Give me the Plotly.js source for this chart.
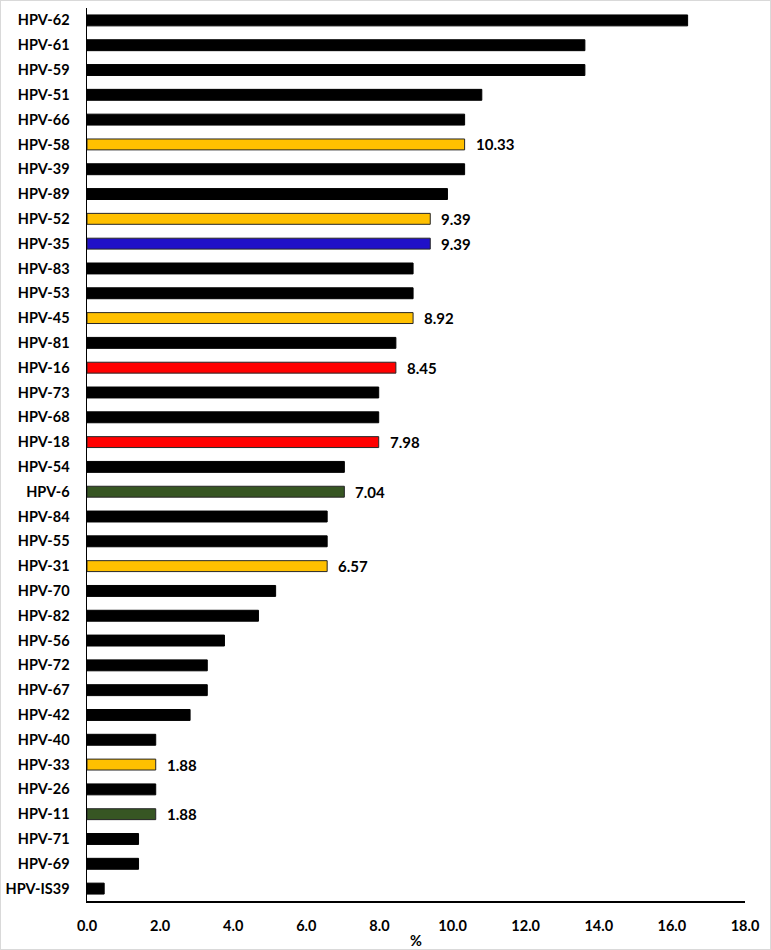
<!DOCTYPE html>
<html>
<head>
<meta charset="utf-8">
<script src="https://cdn.plot.ly/plotly-3.0.1.min.js"></script>
<style>
  body { margin: 0; background: #fff; }
  #wrap { width: 769px; height: 948px; border: 1px solid #d9d9d9; }
</style>
</head>
<body>
<div id="wrap"><div id="chart"></div></div>
<script>
// HPV types, top to bottom as in the figure
var types = ["HPV-62","HPV-61","HPV-59","HPV-51","HPV-66","HPV-58","HPV-39","HPV-89",
  "HPV-52","HPV-35","HPV-83","HPV-53","HPV-45","HPV-81","HPV-16","HPV-73","HPV-68",
  "HPV-18","HPV-54","HPV-6","HPV-84","HPV-55","HPV-31","HPV-70","HPV-82","HPV-56",
  "HPV-72","HPV-67","HPV-42","HPV-40","HPV-33","HPV-26","HPV-11","HPV-71","HPV-69","HPV-IS39"];
var percent = [16.43,13.62,13.62,10.80,10.33,10.33,10.33,9.86,
  9.39,9.39,8.92,8.92,8.92,8.45,8.45,7.98,7.98,
  7.98,7.04,7.04,6.57,6.57,6.57,5.16,4.69,3.76,
  3.29,3.29,2.82,1.88,1.88,1.88,1.88,1.41,1.41,0.47];
// group of each type: o = other, hr = high risk (vaccine), lr = low risk, r = 16/18, b = 35
var group = ["o","o","o","o","o","hr","o","o",
  "hr","b","o","o","hr","o","r","o","o",
  "r","o","lr","o","o","hr","o","o","o",
  "o","o","o","o","hr","o","lr","o","o","o"];

var fillFor = { o: "#000000", hr: "#FFC000", r: "#FF0000", b: "#2010C8", lr: "#375623" };

var colors = group.map(g => fillFor[g]);
var lineColors = group.map(g => g == "o" ? "#000000" : "#262626");

var trace = {
  type: "bar",
  orientation: "h",
  x: percent,
  y: types,
  width: 0.44,
  marker: { color: colors, line: { color: lineColors, width: 1 } },
  hoverinfo: "x+y"
};

// value labels only on the coloured bars
var notes = [];
types.forEach(function (t, i) {
  if (group[i] != "o") {
    notes.push({
      x: percent[i], y: t, xref: "x", yref: "y",
      text: percent[i].toFixed(2), showarrow: false,
      xanchor: "left", xshift: 9,
      font: { family: "Lato, sans-serif", size: 15, color: "#000", weight: 700 }
    });
  }
});

var tickFont = { family: "Lato, sans-serif", size: 14.5, color: "#000", weight: 700 };

var layout = {
  width: 769,
  height: 948,
  margin: { l: 86, r: 25, t: 7, b: 48 },
  paper_bgcolor: "#fff",
  plot_bgcolor: "#fff",
  showlegend: false,
  xaxis: {
    range: [0, 18],
    dtick: 2,
    tickformat: ".1f",
    showgrid: false,
    zeroline: false,
    showline: true,
    linecolor: "#000",
    linewidth: 1.5,
    ticks: "",
    ticklabelstandoff: 11,
    tickfont: tickFont,
    title: { text: "%", font: tickFont, standoff: 7 },
    automargin: false,
    fixedrange: true
  },
  yaxis: {
    type: "category",
    autorange: "reversed",
    showgrid: false,
    zeroline: false,
    showline: true,
    linecolor: "#000",
    linewidth: 1.5,
    ticks: "",
    ticklabelstandoff: 13,
    tickfont: tickFont,
    automargin: false,
    fixedrange: true
  },
  annotations: notes
};

Plotly.newPlot("chart", [trace], layout, { displayModeBar: false, staticPlot: true });
</script>
</body>
</html>
